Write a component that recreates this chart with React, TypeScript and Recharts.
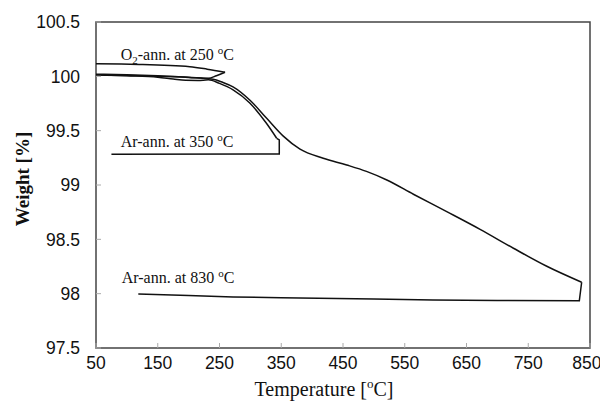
import { LineChart, Line, XAxis, YAxis, ReferenceArea, ReferenceDot } from "recharts"

// temperature ticks and weight ticks
const xTicks = [50, 150, 250, 350, 450, 550, 650, 750, 850]
const yTicks = [97.5, 98, 98.5, 99, 99.5, 100, 100.5]

// O2-annealed at 250 °C: upper branch and return branch (ordered by x)
const o2Heat = [
  { x: 50, y: 100.115 },
  { x: 120, y: 100.11 },
  { x: 202, y: 100.089 },
  { x: 230, y: 100.066 },
  { x: 259, y: 100.037 },
]
const o2Back = [
  { x: 50, y: 100.012 },
  { x: 100, y: 100.008 },
  { x: 150, y: 100.0 },
  { x: 200, y: 99.992 },
  { x: 232, y: 99.982 },
  { x: 245, y: 100.005 },
  { x: 259, y: 100.037 },
]

// Ar-annealed at 350 °C
const ar350Heat = [
  { x: 50, y: 100.015 },
  { x: 100, y: 100.005 },
  { x: 150, y: 99.992 },
  { x: 175, y: 99.975 },
  { x: 195, y: 99.963 },
  { x: 215, y: 99.962 },
  { x: 232, y: 99.968 },
  { x: 250, y: 99.935 },
  { x: 272, y: 99.876 },
  { x: 299, y: 99.755 },
  { x: 326, y: 99.568 },
  { x: 342.6, y: 99.43 },
]
const ar350Back = [
  { x: 342.6, y: 99.43 },
  { x: 346.8, y: 99.415 },
  { x: 346.8, y: 99.285 },
  { x: 75, y: 99.282 },
]

// Ar-annealed at 830 °C
const ar830Heat = [
  { x: 50, y: 100.02 },
  { x: 100, y: 100.015 },
  { x: 150, y: 100.005 },
  { x: 200, y: 99.99 },
  { x: 239.5, y: 99.973 },
  { x: 255, y: 99.945 },
  { x: 271.9, y: 99.903 },
  { x: 299.4, y: 99.78 },
  { x: 326.4, y: 99.614 },
  { x: 353.3, y: 99.45 },
  { x: 380.4, y: 99.33 },
  { x: 418, y: 99.246 },
  { x: 456, y: 99.184 },
  { x: 488, y: 99.125 },
  { x: 521, y: 99.046 },
  { x: 564, y: 98.915 },
  { x: 618, y: 98.755 },
  { x: 672, y: 98.592 },
  { x: 726, y: 98.418 },
  { x: 780, y: 98.252 },
  { x: 836.5, y: 98.105 },
]
const ar830Back = [
  { x: 118.5, y: 97.998 },
  { x: 200, y: 97.982 },
  { x: 272, y: 97.97 },
  { x: 350, y: 97.962 },
  { x: 500, y: 97.95 },
  { x: 596, y: 97.942 },
  { x: 700, y: 97.938 },
  { x: 832.7, y: 97.935 },
  { x: 836.5, y: 98.105 },
]

const annotations = [
  { x: 90, y: 100.15, gas: "O", sub: "2", temp: 250 },
  { x: 90, y: 99.352, gas: "Ar", sub: "", temp: 350 },
  { x: 91.6, y: 98.095, gas: "Ar", sub: "", temp: 830 },
]

const serif = "'Liberation Serif', 'Times New Roman', serif"
const sans = "'Liberation Sans', Arial, sans-serif"
const ink = "#111"

const curves = [
  { data: o2Heat, type: "monotone" },
  { data: o2Back, type: "monotone" },
  { data: ar350Heat, type: "monotone" },
  { data: ar350Back, type: "linear" },
  { data: ar830Heat, type: "monotone" },
  { data: ar830Back, type: "linear" },
]

function annotationShape(a: (typeof annotations)[number]) {
  return (p: any) => (
    <text x={p.cx} y={p.cy} fontFamily={serif} fontSize={16} fill={ink}>
      {a.gas}
      {a.sub ? (
        <>
          <tspan dy={4} fontSize={11}>{a.sub}</tspan>
          <tspan dy={-4}>{`-ann. at ${a.temp} `}</tspan>
        </>
      ) : (
        <tspan>{`-ann. at ${a.temp} `}</tspan>
      )}
      <tspan dy={-6} fontSize={11}>o</tspan>
      <tspan dy={6}>C</tspan>
    </text>
  )
}

export default function App() {
  return (
    <LineChart width={592} height={394} margin={{ top: 14, right: 10, bottom: 0, left: 0 }}>
      <XAxis
        type="number"
        dataKey="x"
        domain={[50, 850]}
        ticks={xTicks}
        allowDataOverflow
        height={54}
        axisLine={false}
        tickSize={-5}
        tickMargin={14}
        tickLine={{ stroke: "#aaa" }}
        tick={{ fontSize: 17.5, fontFamily: sans, fill: ink }}
        label={{
          content: ({ viewBox }: any) => (
            <text
              x={viewBox.x + viewBox.width / 2 - 19}
              y={viewBox.y + 48}
              textAnchor="middle"
              fontFamily={serif}
              fontSize={20}
              fill={ink}
            >
              Temperature [<tspan dy={-8} fontSize={13}>o</tspan>
              <tspan dy={8}>C]</tspan>
            </text>
          ),
        }}
      />
      <YAxis
        type="number"
        domain={[97.5, 100.5]}
        ticks={yTicks}
        allowDataOverflow
        width={88}
        axisLine={false}
        tickSize={-5}
        tickMargin={21}
        tickLine={{ stroke: "#aaa" }}
        tick={{ fontSize: 17.5, fontFamily: sans, fill: ink }}
        label={{
          content: ({ viewBox }: any) => {
            const cx = 14
            const cy = viewBox.y + viewBox.height / 2 - 6
            return (
              <text
                x={cx}
                y={cy}
                transform={`rotate(-90 ${cx} ${cy})`}
                textAnchor="middle"
                dominantBaseline="central"
                fontFamily={serif}
                fontWeight="bold"
                fontSize={19}
                fill={ink}
              >
                Weight [%]
              </text>
            )
          },
        }}
      />
      <ReferenceArea x1={50} x2={850} y1={97.5} y2={100.5} fill="none" stroke="#444" strokeWidth={1.5} />
      {curves.map((c, i) => (
        <Line
          key={i}
          data={c.data}
          dataKey="y"
          type={c.type as any}
          stroke={ink}
          strokeWidth={1.5}
          dot={false}
          isAnimationActive={false}
        />
      ))}
      {annotations.map((a) => (
        <ReferenceDot key={a.temp} x={a.x} y={a.y} r={0} shape={annotationShape(a)} />
      ))}
    </LineChart>
  )
}
